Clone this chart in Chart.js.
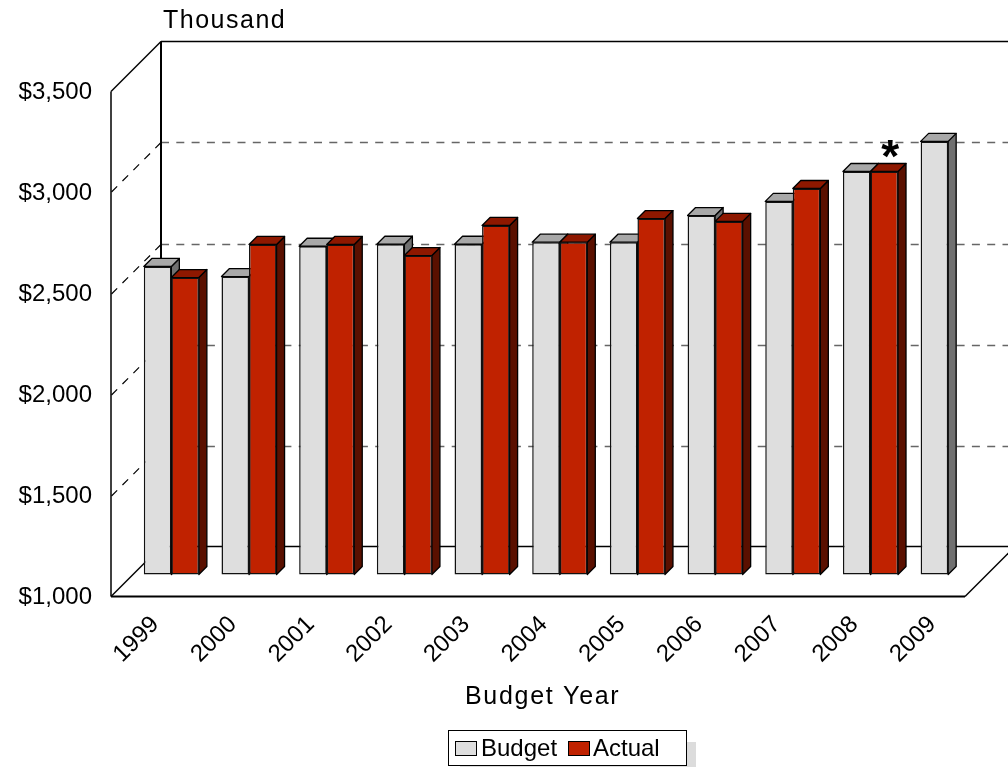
<!DOCTYPE html>
<html>
<head>
<meta charset="utf-8">
<title>Budget vs Actual</title>
<script src="https://cdn.jsdelivr.net/npm/chart.js@4/dist/chart.umd.min.js"></script>
<style>
  html, body { margin: 0; padding: 0; background: #fff; }
  canvas { display: block; }
</style>
</head>
<body>
<canvas id="myChart" width="1008" height="767"></canvas>
<script>
// DATA
const years = ['1999', '2000', '2001', '2002', '2003', '2004', '2005', '2006', '2007', '2008', '2009'];
const budget = [2525, 2475, 2625, 2635, 2635, 2645, 2645, 2777, 2847, 2995, 3144];
const actual = [2470, 2634, 2634, 2579, 2728, 2645, 2762, 2748, 2911, 2995, null];
const yTicks = [1000, 1500, 2000, 2500, 3000, 3500];

// COLOURS
const faces = [
    { front: '#dedede', top: '#a8a8a8', side: '#707070' },
    { front: '#c02200', top: '#8e1800', side: '#5a1000' }
];
const font = '"Liberation Sans", Arial, sans-serif';

// offsets of the fake 3D box
const toFront = 22;   // bars -> front edge of the floor
const toBack = 28;    // bars -> back wall
const barDepth = 8;

function line(ctx, x1, y1, x2, y2) {
    ctx.beginPath();
    ctx.moveTo(x1, y1);
    ctx.lineTo(x2, y2);
    ctx.stroke();
}

function poly(ctx, pts, fill) {
    ctx.beginPath();
    pts.forEach((p, i) => i ? ctx.lineTo(p[0], p[1]) : ctx.moveTo(p[0], p[1]));
    ctx.closePath();
    ctx.fillStyle = fill;
    ctx.fill();
    ctx.stroke();
}

// WALLS, FLOOR AND THE DEPTH OF THE BARS
const box3d = {
    id: 'box3d',
    beforeDatasetsDraw(chart) {
        const ctx = chart.ctx;
        const y = chart.scales.y;
        const area = chart.chartArea;
        const frontL = area.left - toFront + 0.5;
        const frontR = area.right - toFront;
        const backL = area.left + toBack + 0.5;
        const backR = area.right + toBack;
        const bottom = area.bottom + toFront;
        const top = area.top + toFront;
        const floorBack = area.bottom - toBack;
        const wallTop = area.top - toBack;

        ctx.save();
        // dashed grid on the side wall and on the back wall
        yTicks.slice(1, -1).forEach(v => {
            const py = Math.round(y.getPixelForValue(v)) - toBack + 0.5;
            ctx.lineWidth = 1.4;
            ctx.setLineDash([8, 7.3]);
            ctx.strokeStyle = '#666';
            line(ctx, backL, py, 1008, py);
            ctx.lineWidth = 1.2;
            ctx.setLineDash([8, 7.5]);
            ctx.strokeStyle = '#000';
            line(ctx, backL, py, frontL, py + toFront + toBack);
        });
        ctx.setLineDash([]);

        ctx.strokeStyle = '#000';
        ctx.lineWidth = 1.5;
        line(ctx, frontL, top, frontL, bottom);
        line(ctx, frontL, top, backL, wallTop);
        line(ctx, backL, wallTop, 1008, wallTop);
        line(ctx, frontL, bottom, backL, floorBack);
        line(ctx, frontR, bottom, backR, floorBack);
        line(ctx, backL, floorBack, 1008, floorBack);
        ctx.lineWidth = 2;
        line(ctx, backL, wallTop, backL, floorBack);
        line(ctx, frontL, bottom, frontR, bottom);

        // top and right faces, the library draws the fronts over these
        ctx.lineWidth = 1.3;
        ctx.lineJoin = 'round';
        chart.data.datasets.forEach((ds, i) => {
            chart.getDatasetMeta(i).data.forEach((bar, j) => {
                if (ds.data[j] === null) return;
                const l = bar.x - bar.width / 2;
                const r = bar.x + bar.width / 2;
                poly(ctx, [[r, bar.y], [r + barDepth, bar.y - barDepth], [r + barDepth, bar.base - barDepth], [r, bar.base]], faces[i].side);
                poly(ctx, [[l, bar.y], [l + barDepth, bar.y - barDepth], [r + barDepth, bar.y - barDepth], [r, bar.y]], faces[i].top);
            });
        });
        ctx.restore();
    },
    afterDraw(chart) {
        const ctx = chart.ctx;
        ctx.save();
        ctx.fillStyle = '#000';
        ctx.textBaseline = 'alphabetic';
        ctx.textAlign = 'left';

        // axis captions
        ctx.font = '25px ' + font;
        ctx.letterSpacing = '1.5px';
        ctx.fillText('Thousand', 163, 28);
        ctx.letterSpacing = '1.7px';
        ctx.fillText('Budget Year', 465, 704);
        ctx.letterSpacing = '0px';

        // asterisk over the 2008 actual bar
        const marked = chart.getDatasetMeta(1).data[years.indexOf('2008')];
        ctx.font = 'bold 46px ' + font;
        ctx.textAlign = 'center';
        ctx.fillText('*', marked.x + 6, marked.y);

        // legend box with its shadow
        ctx.textAlign = 'left';
        ctx.fillStyle = '#dcdcdc';
        ctx.fillRect(460, 742, 236, 25);
        ctx.fillStyle = '#fff';
        ctx.strokeStyle = '#000';
        ctx.lineWidth = 1;
        ctx.fillRect(448.5, 730.5, 238, 35);
        ctx.strokeRect(448.5, 730.5, 238, 35);
        const swatchX = [455, 568];
        const textX = [481, 593];
        ctx.font = '24px ' + font;
        chart.data.datasets.forEach((ds, i) => {
            ctx.fillStyle = faces[i].front;
            ctx.fillRect(swatchX[i] + 0.5, 741.5, 21, 14);
            ctx.strokeRect(swatchX[i] + 0.5, 741.5, 21, 14);
            ctx.fillStyle = '#000';
            ctx.fillText(ds.label, textX[i], 756);
        });
        ctx.restore();
    }
};

// CREATING CHART
const ctx = document.getElementById('myChart').getContext('2d');
Chart.defaults.font.family = font;

const myChart = new Chart(ctx, {
    type: 'bar',
    data: {
        labels: years,
        datasets: [{
            label: 'Budget',
            data: budget,
            base: yTicks[0],
            backgroundColor: faces[0].front,
            borderColor: '#111',
            borderWidth: 1.5,
            borderSkipped: false
        },
        {
            label: 'Actual',
            data: actual,
            base: yTicks[0],
            backgroundColor: faces[1].front,
            borderColor: '#111',
            borderWidth: 1.5,
            borderSkipped: false
        }]
    },
    options: {
        responsive: false,
        animation: false,
        clip: false,
        categoryPercentage: 0.709,
        barPercentage: 1,
        layout: {
            padding: { left: 0, right: 21, top: 69.5, bottom: 0 }
        },
        plugins: {
            legend: { display: false },
            tooltip: { enabled: false }
        },
        scales: {
            x: {
                afterFit: scale => { scale.height = 192.5; },
                grid: { display: false, drawTicks: false },
                border: { display: false },
                ticks: {
                    color: '#000',
                    font: { size: 24 },
                    minRotation: 45,
                    maxRotation: 45,
                    labelOffset: -toFront + 6,
                    padding: 36
                }
            },
            y: {
                min: 1000,
                max: 3500,
                afterFit: scale => { scale.width = 132.5; },
                afterBuildTicks: scale => { scale.ticks = yTicks.map(value => ({ value })); },
                grid: { display: false, drawTicks: false },
                border: { display: false },
                ticks: {
                    color: '#000',
                    font: { size: 24 },
                    padding: 40.5,
                    labelOffset: toFront + 1,
                    callback: value => '$' + value.toLocaleString('en-US')
                }
            }
        }
    },
    plugins: [box3d]
});
</script>
</body>
</html>
